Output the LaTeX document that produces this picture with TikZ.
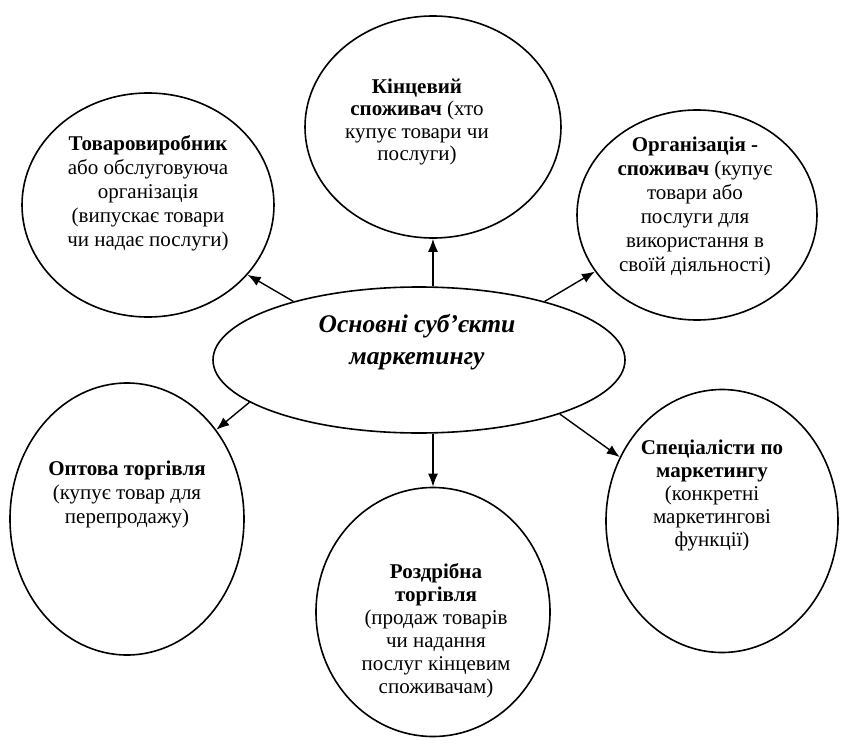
\documentclass[tikz,border=0pt]{standalone}
\usepackage{fontspec}
\setmainfont{Liberation Serif}
\usetikzlibrary{shapes.geometric,arrows.meta}
\begin{document}
\begin{tikzpicture}[x=1pt,y=-1pt,
  circ/.style={ellipse,draw,line width=1.6pt,inner sep=0pt},
  txt/.style={align=center,font=\fontsize{21}{24}\selectfont,inner sep=0pt},
  ctxt/.style={align=center,font=\fontsize{25.5}{32}\selectfont\bfseries\itshape,inner sep=0pt},
  arr/.style={-{Latex[length=13pt,width=10pt]},line width=1.4pt}]
\useasboundingbox[fill=white] (0,0) rectangle (841,744);

\node[circ,minimum width=252pt,minimum height=224pt] (tl) at (148,205) {};
\node[circ,minimum width=256pt,minimum height=222pt] (top) at (433,127) {};
\node[circ,minimum width=240pt,minimum height=210pt] (tr) at (697,215) {};
\node[circ,minimum width=412pt,minimum height=146pt] (ce) at (419,360) {};
\node[circ,minimum width=234pt,minimum height=272pt] (ll) at (127,519) {};
\node[circ,minimum width=234pt,minimum height=249pt] (bot) at (433,612) {};
\node[circ,minimum width=232pt,minimum height=263pt] (lr) at (722,521) {};

\node[txt] (tltxt) at (148,193) {\textbf{Товаровиробник}\\або обслуговуюча\\організація\\(випускає товари\\чи надає послуги)};
\node[txt,font=\fontsize{21}{22.5}\selectfont] (toptxt) at (417,122) {\textbf{Кінцевий}\\\textbf{споживач} (хто\\купує товари чи\\послуги)};
\node[txt] (trtxt) at (695,206) {\textbf{Організація -}\\\textbf{споживач} (купує\\товари або\\послуги для\\використання в\\своїй діяльності)};
\node[ctxt] (cetxt) at (417,342) {Основні суб’єкти\\маркетингу};
\node[txt] (lltxt) at (127,494) {\textbf{Оптова торгівля}\\(купує товар для\\перепродажу)};
\node[txt,font=\fontsize{21}{23}\selectfont] (bottxt) at (436,631) {\textbf{Роздрібна}\\\textbf{торгівля}\\(продаж товарів\\чи надання\\послуг кінцевим\\споживачам)};
\node[txt,font=\fontsize{21}{23}\selectfont] (lrtxt) at (712,495) {\textbf{Спеціалісти по}\\\textbf{маркетингу}\\(конкретні\\маркетингові\\функції)};

\draw[arr] (ce.155) -- (tl.-35);
\draw[arr] (top.south |- ce.north) -- (top.south);
\draw[arr] (ce.25) -- (tr.-151);
\draw[arr] (ce.194) -- (ll.45);
\draw[arr] (bot.north |- ce.south) -- (bot.north);
\draw[arr] (ce.-21) -- (lr.148);
\end{tikzpicture}
\end{document}
